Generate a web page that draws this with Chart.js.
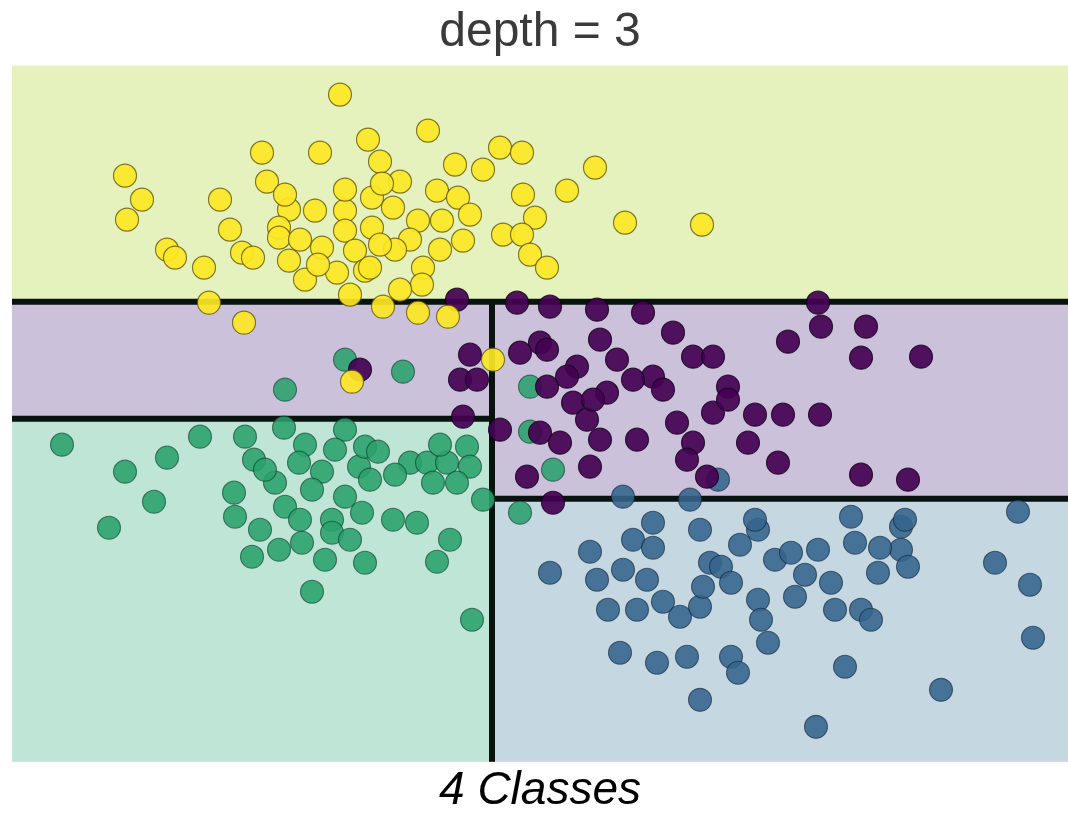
<!DOCTYPE html>
<html>
<head>
<meta charset="utf-8">
<script src="https://cdn.jsdelivr.net/npm/chart.js@4.4.1/dist/chart.umd.min.js"></script>
<style>
  html, body { margin: 0; padding: 0; background: #ffffff; }
</style>
</head>
<body>
<canvas id="chart" width="1068" height="819"></canvas>
<script>
// tree splits (depth 3)
const xSplit = 4.80;
const ySplitTop = 4.60;
const ySplitLeft = 3.43;
const ySplitRight = 2.63;

const classNames = ['class 3', 'class 0', 'class 2', 'class 1'];

// [x, y] per point
const yellowPts = [
  [3.28,6.67],[4.16,6.31],[3.56,6.22],[2.50,6.09],[3.08,6.09],[3.68,6.00],[4.88,6.14],[5.10,6.09],
  [4.43,5.97],[4.71,5.92],[5.83,5.94],[1.13,5.86],[2.55,5.80],[3.88,5.80],[1.30,5.62],[2.08,5.62],
  [4.25,5.71],[4.46,5.64],[5.11,5.67],[5.55,5.71],[1.15,5.42],[2.77,5.52],[3.03,5.51],[3.33,5.51],
  [3.60,5.64],[3.81,5.54],[2.67,5.34],[3.33,5.31],[3.60,5.34],[4.06,5.41],[4.30,5.41],[5.23,5.44],
  [6.13,5.39],[6.90,5.37],[3.10,5.14],[3.43,5.11],[2.77,5.01],[2.93,4.82],[3.25,4.89],[3.53,4.91],
  [2.30,5.09],[2.41,5.04],[1.92,4.94],[1.55,5.12],[1.63,5.04],[2.67,5.24],[4.51,5.21],[4.91,5.27],
  [5.10,5.27],[5.18,5.07],[5.35,4.94],[3.58,4.94],[4.11,4.94],[4.10,4.77],[1.97,4.59],[2.32,4.39],
  [3.71,4.55],[4.06,4.49],[4.36,4.45],[4.81,4.02],[3.40,3.80],[2.88,5.22],[3.98,5.22],[3.70,5.78],
  [3.06,4.97],[3.83,5.12],[2.73,5.67],[3.33,5.72],[4.58,5.47],[4.28,5.12],[2.18,5.32],[3.88,4.72],
  [3.38,4.67],[3.68,5.17]
];

const purplePts = [
  [4.45,4.62],[5.05,4.59],[5.38,4.55],[5.85,4.52],[6.31,4.49],[5.88,4.22],[5.28,4.19],[5.08,4.09],
  [5.35,4.12],[6.61,4.29],[6.81,4.05],[6.05,4.02],[5.65,3.95],[4.48,3.82],[4.65,3.82],[5.35,3.75],
  [5.55,3.85],[5.95,3.69],[6.41,3.85],[6.51,3.72],[7.01,4.05],[7.01,3.49],[5.61,3.59],[5.75,3.42],
  [4.51,3.45],[4.88,3.32],[5.28,3.29],[5.48,3.19],[5.88,3.22],[6.25,3.22],[6.65,3.39],[6.81,3.19],
  [6.75,3.02],[5.78,2.95],[5.15,2.85],[5.41,2.59],[6.95,2.85],[8.06,4.59],[8.09,4.35],[8.54,4.35],
  [7.76,4.20],[8.49,4.04],[9.09,4.05],[7.16,3.75],[7.43,3.47],[7.71,3.47],[8.08,3.47],[7.36,3.19],
  [7.66,2.99],[8.49,2.87],[8.96,2.82],[7.16,3.62],[4.58,4.07],[6.21,3.82],[5.81,3.62],[3.48,3.92]
];

const greenPts = [
  [3.33,4.02],[2.73,3.72],[3.91,3.90],[0.50,3.17],[1.88,3.25],[2.33,3.25],[2.72,3.34],[3.33,3.32],
  [1.55,3.04],[1.13,2.90],[2.42,3.02],[2.93,3.17],[2.87,2.99],[3.10,2.90],[3.47,2.95],[3.53,3.15],
  [2.63,2.79],[2.22,2.69],[1.42,2.60],[2.23,2.45],[2.73,2.55],[3.00,2.72],[3.33,2.65],[3.20,2.42],
  [0.97,2.34],[3.50,2.49],[2.40,2.05],[2.67,2.12],[2.90,2.19],[3.13,2.02],[3.53,1.99],[3.00,1.70],
  [3.20,2.29],[5.18,3.75],[5.18,3.30],[5.41,2.92],[5.08,2.49],[3.66,3.10],[3.98,2.99],[4.15,2.99],
  [4.35,2.99],[4.55,3.15],[4.58,2.95],[4.21,2.79],[4.45,2.79],[3.81,2.42],[4.05,2.39],[4.71,2.62],
  [4.38,2.22],[4.25,2.00],[4.60,1.42],[2.53,2.92],[3.83,2.87],[4.28,3.17],[3.23,3.12],[3.58,2.82],
  [2.48,2.32],[2.88,2.42],[3.38,2.22]
];

const bluePts = [
  [5.38,1.89],[5.78,2.10],[6.21,2.22],[6.41,2.39],[6.41,2.14],[5.85,1.82],[6.11,1.92],[6.35,1.82],
  [5.96,1.52],[6.25,1.52],[6.51,1.60],[6.68,1.45],[6.88,1.55],[6.98,1.99],[6.91,1.75],[6.08,1.09],
  [6.45,0.99],[6.75,1.05],[6.88,0.62],[7.46,2.32],[7.09,1.95],[7.19,1.79],[7.63,2.02],[7.79,2.09],
  [8.06,2.12],[8.43,2.19],[8.89,2.35],[8.89,2.12],[8.66,1.89],[8.96,1.95],[8.19,1.79],[7.83,1.65],
  [7.46,1.62],[7.49,1.42],[8.23,1.52],[8.49,1.52],[8.59,1.42],[7.56,1.19],[7.19,1.05],[7.26,0.89],
  [8.33,0.95],[9.29,0.72],[8.04,0.35],[9.83,1.99],[10.18,1.77],[10.21,1.24],[10.06,2.50],[6.11,2.65],
  [6.78,2.62],[7.43,2.42],[8.39,2.45],[8.93,2.42],[7.06,2.82],[8.68,2.14],[7.28,2.17],[7.93,1.87],
  [6.88,2.32]
];

const toXY = pts => pts.map(p => ({ x: p[0], y: p[1] }));

// decision regions + split lines, drawn under the points
const regions = {
  id: 'regions',
  beforeDatasetsDraw(chart) {
    const { ctx, chartArea: a, scales: { x, y } } = chart;
    const xs = x.getPixelForValue(xSplit);
    const yt = y.getPixelForValue(ySplitTop);
    const yl = y.getPixelForValue(ySplitLeft);
    const yr = y.getPixelForValue(ySplitRight);
    ctx.save();
    ctx.fillStyle = '#e5f2bd';
    ctx.fillRect(a.left, a.top, a.right - a.left, yt - a.top);
    ctx.fillStyle = '#cbc1db';
    ctx.fillRect(a.left, yt, xs - a.left, yl - yt);
    ctx.fillRect(xs, yt, a.right - xs, yr - yt);
    ctx.fillStyle = '#bee5d6';
    ctx.fillRect(a.left, yl, xs - a.left, a.bottom - yl);
    ctx.fillStyle = '#c5d7e1';
    ctx.fillRect(xs, yr, a.right - xs, a.bottom - yr);

    ctx.strokeStyle = '#08120e';
    ctx.lineWidth = 6;
    ctx.beginPath();
    ctx.moveTo(a.left, yt); ctx.lineTo(a.right, yt);
    ctx.moveTo(xs, yt); ctx.lineTo(xs, a.bottom);
    ctx.moveTo(a.left, yl); ctx.lineTo(xs, yl);
    ctx.moveTo(xs, yr); ctx.lineTo(a.right, yr);
    ctx.stroke();
    ctx.restore();
  }
};

const ctx = document.getElementById('chart').getContext('2d');
new Chart(ctx, {
  type: 'scatter',
  data: {
    datasets: [
      { label: classNames[0], data: toXY(yellowPts), backgroundColor: 'rgba(253,231,37,0.92)', borderColor: 'rgba(90,80,0,0.75)' },
      { label: classNames[1], data: toXY(purplePts), backgroundColor: 'rgba(68,1,84,0.92)', borderColor: 'rgba(20,0,25,0.8)' },
      { label: classNames[2], data: toXY(greenPts), backgroundColor: 'rgba(42,160,108,0.88)', borderColor: 'rgba(10,60,40,0.6)' },
      { label: classNames[3], data: toXY(bluePts), backgroundColor: 'rgba(52,100,140,0.88)', borderColor: 'rgba(15,35,55,0.6)' }
    ]
  },
  options: {
    responsive: false,
    animation: false,
    events: [],
    layout: { autoPadding: false, padding: { left: 12, right: 0, top: 0, bottom: 0 } },
    elements: { point: { radius: 11.5, borderWidth: 1.2 } },
    plugins: {
      legend: { display: false },
      tooltip: { enabled: false },
      title: {
        display: true,
        text: 'depth = 3',
        color: '#3a3a3a',
        font: { family: 'Liberation Sans, Arial, sans-serif', size: 48, weight: 'normal' },
        padding: { top: 4, bottom: 4 }
      },
      subtitle: {
        display: true,
        position: 'bottom',
        text: '4 Classes',
        color: '#000000',
        font: { family: 'Liberation Sans, Arial, sans-serif', size: 46, style: 'italic', weight: 'normal' },
        padding: { top: 2, bottom: 0 }
      }
    },
    scales: {
      x: { type: 'linear', min: 0, max: 10.56, display: false },
      y: { type: 'linear', min: 0, max: 6.96, display: false }
    }
  },
  plugins: [regions]
});
</script>
</body>
</html>
